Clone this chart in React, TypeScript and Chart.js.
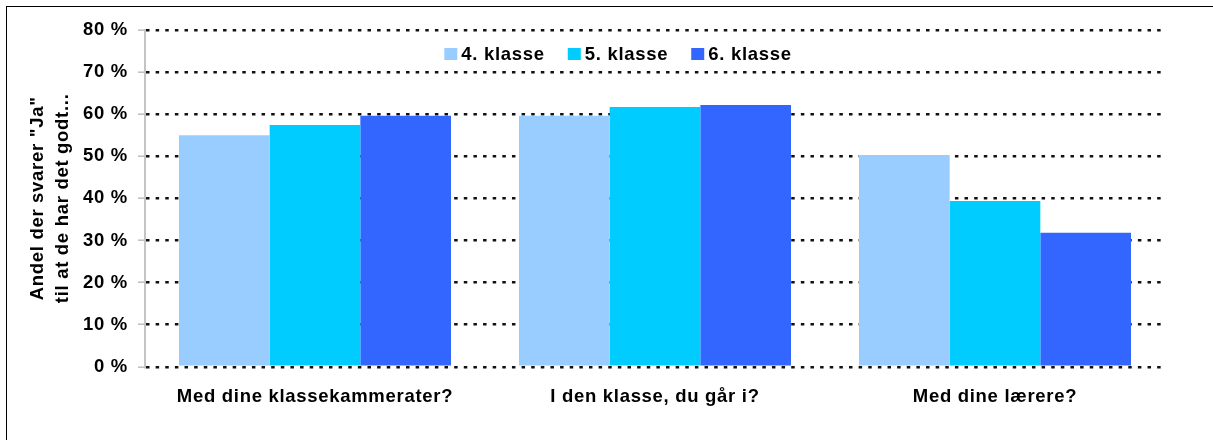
import React, { useEffect, useRef } from "react";
import { Chart, registerables } from "chart.js";

Chart.register(...registerables);

const categories = ["Med dine klassekammerater?", "I den klasse, du går i?", "Med dine lærere?"];
const seriesNames = ["4. klasse", "5. klasse", "6. klasse"];
const klasse4 = [55.0, 59.6, 50.3];
const klasse5 = [57.4, 61.7, 39.4];
const klasse6 = [59.6, 62.2, 31.8];
const seriesColors = ["#99CCFF", "#00CCFF", "#3366FF"];
const yTicks = [0, 10, 20, 30, 40, 50, 60, 70, 80];
const yTitle = ['Andel der svarer "Ja"', "til at de har det godt..."];

const FONT_FAMILY = "'Liberation Sans', Arial, Helvetica, sans-serif";
const LETTER_SPACING = "0.7px";

const spacingPlugin = {
  id: "letterSpacing",
  beforeUpdate(chart: any) {
    chart.ctx.letterSpacing = LETTER_SPACING;
  },
  beforeDraw(chart: any) {
    chart.ctx.letterSpacing = LETTER_SPACING;
  },
};

const innerLegend = {
  id: "innerLegend",
  afterDraw(chart: any) {
    const ctx = chart.ctx;
    ctx.save();
    ctx.letterSpacing = LETTER_SPACING;
    ctx.font = `bold 18.5px ${FONT_FAMILY}`;
    ctx.textBaseline = "middle";
    ctx.textAlign = "left";
    const box = 12;
    const gapText = 5;
    const gapItem = 23;
    const items = chart.data.datasets.map((ds: any) => ({
      label: ds.label,
      color: ds.backgroundColor,
      w: ctx.measureText(ds.label).width,
    }));
    const total =
      items.reduce((s: number, it: any) => s + box + gapText + it.w, 0) + gapItem * (items.length - 1);
    let x = chart.width / 2 + 8 - total / 2;
    const y = chart.chartArea.top + 24;
    items.forEach((it: any) => {
      ctx.fillStyle = it.color;
      ctx.fillRect(x, y - box / 2, box + 1, box);
      x += box + gapText;
      ctx.fillStyle = "#000";
      ctx.fillText(it.label, x, y + 1);
      x += it.w + gapItem;
    });
    ctx.restore();
  },
};

export default function App() {
  const canvasRef = useRef<HTMLCanvasElement | null>(null);

  useEffect(() => {
    if (!canvasRef.current) return;
    const chart = new Chart(canvasRef.current, {
      type: "bar",
      data: {
        labels: categories,
        datasets: [
          { label: seriesNames[0], data: klasse4, backgroundColor: seriesColors[0] },
          { label: seriesNames[1], data: klasse5, backgroundColor: seriesColors[1] },
          { label: seriesNames[2], data: klasse6, backgroundColor: seriesColors[2] },
        ],
      },
      options: {
        animation: false,
        responsive: false,
        devicePixelRatio: 1,
        layout: { padding: { top: 23, right: 48, left: 0, bottom: 0 } },
        datasets: {
          bar: { categoryPercentage: 0.8, barPercentage: 1.0, borderWidth: 0 },
        },
        plugins: {
          legend: { display: false },
          tooltip: { enabled: false },
          title: { display: false },
        },
        scales: {
          x: {
            offset: true,
            grid: { display: false, drawTicks: false },
            border: { display: false },
            ticks: {
              color: "#000",
              padding: 19,
              maxRotation: 0,
              autoSkip: false,
              font: { family: FONT_FAMILY, size: 18.5, weight: "bold" },
            },
            afterFit(scale: any) {
              scale.height = 73.3;
            },
          },
          y: {
            min: yTicks[0],
            max: yTicks[yTicks.length - 1],
            afterBuildTicks(scale: any) {
              scale.ticks = yTicks.map((v) => ({ value: v }));
            },
            grid: {
              color: "#111",
              lineWidth: 2.4,
              drawTicks: true,
              tickLength: 7,
              tickColor: "#bdbdbd",
              tickWidth: 1.5,
              tickBorderDash: [],
            },
            border: { display: true, color: "#c4c4c4", width: 2, dash: [3.5, 6.13] },
            ticks: {
              color: "#000",
              padding: 10,
              font: { family: FONT_FAMILY, size: 18.5, weight: "bold" },
              callback: (v: any) => `${v} %`,
            },
            title: {
              display: true,
              text: yTitle,
              color: "#000",
              font: { family: FONT_FAMILY, size: 18.5, weight: "bold", lineHeight: 25 / 18.5 },
              padding: { top: 18.5, bottom: 0 },
            },
            afterFit(scale: any) {
              scale.width = 138;
            },
          },
        },
      },
      plugins: [spacingPlugin, innerLegend],
    });
    return () => chart.destroy();
  }, []);

  return (
    <div style={{ position: "absolute", left: 0, top: 0, width: 1213, height: 440, overflow: "hidden", background: "#fff" }}>
      <div
        style={{
          position: "absolute",
          left: 6,
          top: 6,
          width: 1300,
          height: 500,
          borderLeft: "1px solid #000",
          borderTop: "1px solid #000",
        }}
      />
      <canvas
        ref={canvasRef}
        width={1206}
        height={433}
        style={{ position: "absolute", left: 7, top: 7, width: "1206px", height: "433px" }}
      />
    </div>
  );
}
